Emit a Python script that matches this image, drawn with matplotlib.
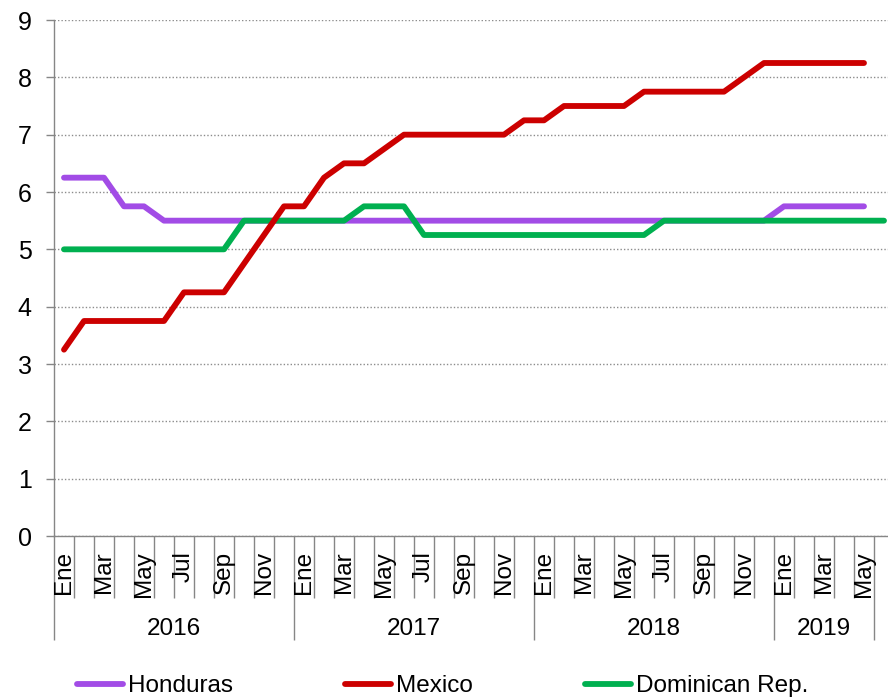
import numpy as np
import matplotlib
matplotlib.use("Agg")
import matplotlib.pyplot as plt
import matplotlib.transforms as mtransforms

plt.rcParams["font.family"] = ["Liberation Sans", "DejaVu Sans"]

# monthly data, Ene 2016 .. Jun 2019
month_names = ["Ene", "Feb", "Mar", "Abr", "May", "Jun",
               "Jul", "Ago", "Sep", "Oct", "Nov", "Dic"]
years = ["2016", "2017", "2018", "2019"]
year_months = [12, 12, 12, 5]   # months labelled under each year
n_points = 42

nan = np.nan
honduras = [6.25, 6.25, 6.25, 5.75, 5.75, 5.5, 5.5, 5.5, 5.5, 5.5, 5.5, 5.5,
            5.5, 5.5, 5.5, 5.5, 5.5, 5.5, 5.5, 5.5, 5.5, 5.5, 5.5, 5.5,
            5.5, 5.5, 5.5, 5.5, 5.5, 5.5, 5.5, 5.5, 5.5, 5.5, 5.5, 5.5,
            5.75, 5.75, 5.75, 5.75, 5.75, nan]
mexico = [3.25, 3.75, 3.75, 3.75, 3.75, 3.75, 4.25, 4.25, 4.25, 4.75, 5.25, 5.75,
          5.75, 6.25, 6.5, 6.5, 6.75, 7.0, 7.0, 7.0, 7.0, 7.0, 7.0, 7.25,
          7.25, 7.5, 7.5, 7.5, 7.5, 7.75, 7.75, 7.75, 7.75, 7.75, 8.0, 8.25,
          8.25, 8.25, 8.25, 8.25, 8.25, nan]
dominican = [5.0, 5.0, 5.0, 5.0, 5.0, 5.0, 5.0, 5.0, 5.0, 5.5, 5.5, 5.5,
             5.5, 5.5, 5.5, 5.75, 5.75, 5.75, 5.25, 5.25, 5.25, 5.25, 5.25, 5.25,
             5.25, 5.25, 5.25, 5.25, 5.25, 5.25, 5.5, 5.5, 5.5, 5.5, 5.5, 5.5,
             5.5, 5.5, 5.5, 5.5, 5.5, 5.5]

W, H = 888, 697
fig = plt.figure(figsize=(W / 100, H / 100), dpi=100)
ax_left, ax_right, ax_top, ax_bot = 54, 888, 20, 536
ax = fig.add_axes([ax_left / W, 1 - ax_bot / H,
                   (ax_right - ax_left) / W, (ax_bot - ax_top) / H])

x = np.arange(n_points)
lw = 4.2
ax.plot(x, honduras, color="#A24CE6", lw=lw, solid_capstyle="round",
        solid_joinstyle="round", label="Honduras", zorder=3)
ax.plot(x, dominican, color="#00B050", lw=lw, solid_capstyle="round",
        solid_joinstyle="round", label="Dominican Rep.", zorder=4)
ax.plot(x, mexico, color="#CC0000", lw=lw, solid_capstyle="round",
        solid_joinstyle="round", label="Mexico", zorder=5)

ax.set_xlim(-0.5, (ax_right - ax_left) / 20 - 0.5)
ax.set_ylim(0, 9)

# y axis
ax.set_yticks(range(0, 10))
ax.yaxis.grid(True, linestyle=(0, (1, 1.5)), color="#8C8C8C", lw=1)
ax.tick_params(axis="y", direction="out", length=6, width=1, color="#868686",
               labelsize=18, pad=10)
for s in ["top", "right"]:
    ax.spines[s].set_visible(False)
for s in ["left", "bottom"]:
    ax.spines[s].set_color("#868686")
    ax.spines[s].set_linewidth(1)

# x axis: month boundaries (minor) and year boundaries (major)
year_edges = [-0.5]
for n in year_months:
    year_edges.append(year_edges[-1] + n)
month_edges = [e for e in np.arange(-0.5, sum(year_months), 1.0) if e not in year_edges]
ax.set_xticks(year_edges)
ax.set_xticks(month_edges, minor=True)
ax.set_xticklabels([])
ax.tick_params(axis="x", which="major", direction="out", length=75, width=1,
               color="#868686")
ax.tick_params(axis="x", which="minor", direction="out", length=44.6, width=1,
               color="#868686")

ax_h = ax_bot - ax_top
trans = mtransforms.blended_transform_factory(ax.transData, ax.transAxes)
for i in range(sum(year_months)):
    if i % 2 == 0:
        ax.text(i, -15 / ax_h, month_names[i % 12], rotation=90, ha="center",
                va="top", fontsize=17.5, transform=trans)
for k, yr in enumerate(years):
    mid = (year_edges[k] + year_edges[k + 1]) / 2
    ax.text(mid, -93 / ax_h, yr, ha="center", va="center", fontsize=17.5,
            transform=trans)

handles, labels = ax.get_legend_handles_labels()
order = [0, 2, 1]
fig.legend([handles[i] for i in order], [labels[i] for i in order],
           loc="center left", bbox_to_anchor=(77 / W, 1 - 686 / H), ncol=3,
           frameon=False, fontsize=17.5, handlelength=1.9, handletextpad=0.2,
           columnspacing=4.6, borderpad=0, borderaxespad=0)

fig.savefig("out.png", dpi=100)
